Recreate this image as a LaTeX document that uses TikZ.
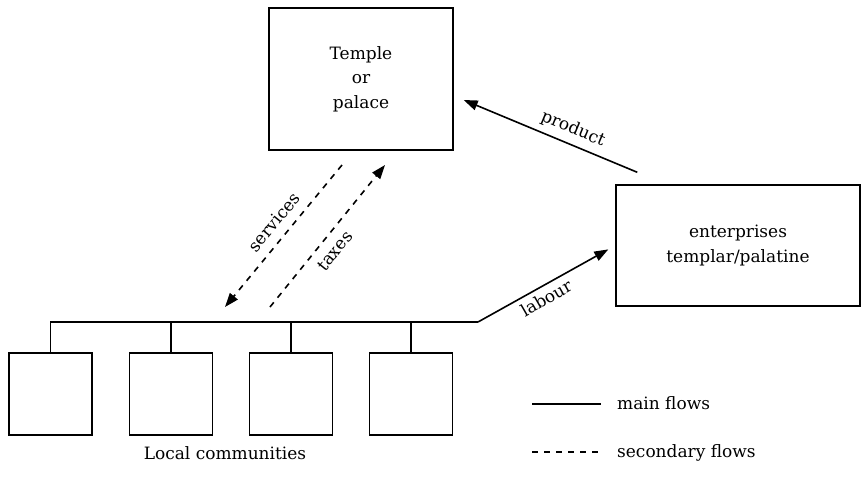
\documentclass[tikz,border=0pt]{standalone}
\usepackage{fontspec}
\setmainfont{DejaVu Serif}
\usetikzlibrary{arrows.meta,calc}
\newcommand\fsz{\fontsize{17}{24.5}\selectfont}
\begin{document}
\begin{tikzpicture}[x=1pt,y=-1pt,
  box/.style={draw, line width=1.4pt, inner sep=0pt, align=center, font=\fsz},
  comm/.style={draw, line width=1.4pt, minimum width=83pt, minimum height=82pt, inner sep=0pt},
  flow/.style={line width=1.6pt},
  sec/.style={line width=1.6pt, dash pattern=on 6pt off 6pt},
  tip/.style={-{Triangle[length=14pt,width=10pt]}},
  lbl/.style={font=\fsz, inner sep=0pt}]
\useasboundingbox (0,0) rectangle (862,477);
\fill[white] (0,0) rectangle (862,477);
% main boxes
\node[box, minimum width=184pt, minimum height=142pt] (temple) at (361,79) {Temple\\or\\palace};
\node[box, minimum width=244pt, minimum height=121pt] (ent) at (738,245.5) {enterprises\\templar/palatine};
% communities
\node[comm] (c1) at (50.5,394) {};
\node[comm] (c2) at (171,394) {};
\node[comm] (c3) at (291,394) {};
\node[comm] (c4) at (411,394) {};
\node[lbl, anchor=base] (lc) at (225,459) {Local communities};
% bus
\coordinate (br) at (478,322);
\draw[flow] (c1.north) |- (br);
\draw[flow] (c2.north) -- (c2.north |- br);
\draw[flow] (c3.north) -- (c3.north |- br);
\draw[flow] (c4.north) -- (c4.north |- br);
% labour
\draw[flow, tip, shorten >=8pt] (br) -- (ent.west);
\node[lbl, rotate=30] (lab) at (546,298) {labour};
% product
\coordinate (p1) at ($(ent.north west)+(22,-12)$);
\coordinate (p2) at ($(temple.east)+(10,21)$);
\draw[flow, tip] (p1) -- (p2);
\node[lbl, rotate=-22.6] (prod) at (573,129) {product};
% services / taxes
\coordinate (s1) at (342,165);
\coordinate (s2) at (225,307);
\draw[sec, tip] (s1) -- (s2);
\node[lbl, rotate=50.5] (serv) at (274,222) {services};
\coordinate (t1) at (270,307);
\coordinate (t2) at (385,165);
\draw[sec, tip] (t1) -- (t2);
\node[lbl, rotate=51] (tax) at (335,251) {taxes};
% legend
\coordinate (m1) at (532,404);
\coordinate (m2) at (601,404);
\draw[flow] (m1) -- (m2);
\node[lbl, anchor=base west] (mt) at (617,409) {main flows};
\coordinate (d1) at (532,452);
\coordinate (d2) at (601,452);
\draw[sec] (d1) -- (d2);
\node[lbl, anchor=base west] (dt) at (617,457) {secondary flows};
\end{tikzpicture}
\end{document}
